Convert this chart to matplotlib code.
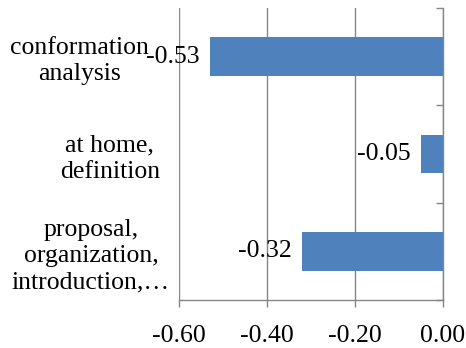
import matplotlib
matplotlib.use("Agg")
import matplotlib.pyplot as plt
import matplotlib.transforms as mtransforms
import numpy as np

categories = ["conformation\nanalysis", "at home,\ndefinition",
              "proposal,\norganization,\nintroduction,\u2026"]
values = [-0.53, -0.05, -0.32]
x_ticks = [-0.60, -0.40, -0.20, 0.00]
x_tick_labels = ["-0.60", "-0.40", "-0.20", "0.00"]

plt.rcParams["font.family"] = ["Liberation Serif", "DejaVu Serif"]
FS = 18.5
GRAY = "#868686"
BAR = "#4F81BD"

fig = plt.figure(figsize=(4.66, 3.48), dpi=100)
ax = fig.add_axes([179 / 466, 1 - 300 / 348, (442.5 - 179) / 466, (300 - 8) / 348])

pos = np.arange(len(categories))
ax.barh(pos, values, height=0.4, color=BAR, zorder=3)

ax.set_xlim(-0.6, 0.0)
ax.set_ylim(len(categories) - 0.5, -0.5)

ax.set_xticks(x_ticks)
ax.set_xticklabels(x_tick_labels, fontsize=FS)
ax.tick_params(axis="x", direction="out", length=5, width=1, color=GRAY, pad=13)
ax.grid(axis="x", color=GRAY, linewidth=1, zorder=0)

ax.set_yticks(pos)
ax.set_yticklabels(categories, fontsize=FS, multialignment="center", linespacing=1.25)
ax.set_yticks(np.arange(len(categories) + 1) - 0.5, minor=True)
ax.tick_params(axis="y", which="major", left=False, right=False, labelleft=True, pad=3)
ax.tick_params(axis="y", which="minor", left=False, right=True, direction="in",
               length=5, width=1, color=GRAY)

# each wrapped category label sits centred in its own box, so nudge them sideways
label_shift_px = [-21, -10, 0]
for lbl, dx in zip(ax.get_yticklabels(), label_shift_px):
    lbl.set_transform(lbl.get_transform() +
                      mtransforms.ScaledTranslation(dx / 100, 0, fig.dpi_scale_trans))

ax.spines["top"].set_visible(False)
ax.spines["left"].set_visible(False)
for side in ["bottom", "right"]:
    ax.spines[side].set_color(GRAY)
    ax.spines[side].set_linewidth(1)

for v, p in zip(values, pos):
    ax.annotate(f"{v:.2f}", xy=(v, p), xytext=(-10, 0), textcoords="offset pixels",
                ha="right", va="center", fontsize=FS, zorder=4)

fig.savefig("out.png", dpi=100, facecolor="white")
